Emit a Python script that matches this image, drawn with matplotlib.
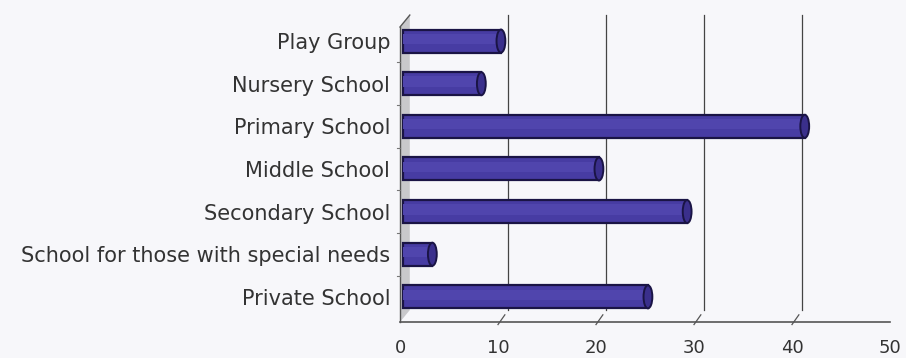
import matplotlib
matplotlib.use("Agg")
import matplotlib.pyplot as plt
import numpy as np

categories = [
    "Play Group",
    "Nursery School",
    "Primary School",
    "Middle School",
    "Secondary School",
    "School for those with special needs",
    "Private School",
]
values = [10, 8, 41, 20, 29, 3, 25]
x_ticks = [0, 10, 20, 30, 40, 50]

# 3d look: depth of the back wall in data units
DX, DY = 1.0, 0.28
Y0, Y1 = -0.59, 6.33

fig = plt.figure(figsize=(9.06, 3.58), dpi=100, facecolor="#f7f7fa")
ax = fig.add_axes([400 / 906, 36 / 358, 490 / 906, 295 / 358])
ax.set_facecolor("none")

ypos = np.arange(len(categories))[::-1]

# back wall gridlines
for v in x_ticks[1:-1]:
    ax.plot([v + DX, v + DX], [Y0 + DY, Y1 + DY], color="#444444", lw=0.9,
            clip_on=False, zorder=1)
# left wall
ax.fill([0, DX, DX, 0], [Y0, Y0 + DY, Y1 + DY, Y1], color="#a9a9ad",
        alpha=0.6, lw=0, clip_on=False, zorder=1)
ax.plot([0, 0], [Y0, Y1], color="#555555", lw=1.0, clip_on=False, zorder=2)
ax.plot([0, DX], [Y1, Y1 + DY], color="#555555", lw=1.0, clip_on=False, zorder=2)
ax.plot([0, 50], [Y0, Y0], color="#555555", lw=1.2, clip_on=False, zorder=2)
# slanted tick marks on the floor
for v in x_ticks[1:-1]:
    ax.plot([v, v + DX * 0.7], [Y0 - 0.06, Y0 + DY * 0.6], color="#555555",
            lw=0.9, clip_on=False, zorder=2)
# boundary marks on the left wall
for yb in np.arange(0.5, len(categories) - 0.5, 1.0):
    ax.plot([-0.35, 0], [yb, yb], color="#777777", lw=0.8, clip_on=False, zorder=2)

# bars (cylinder-ish)
ax.barh(ypos, values, left=0.3, height=0.54, color="#473ca3",
        edgecolor="#1a1445", linewidth=1.6, zorder=3)
ax.barh(ypos + 0.05, values, left=0.3, height=0.24, color="#5045ad",
        linewidth=0, zorder=4)
for y, v in zip(ypos, values):
    ax.add_patch(matplotlib.patches.Ellipse((v + 0.3, y), 0.9, 0.54,
                 facecolor="#3a2f8c", edgecolor="#1a1445", lw=1.4, zorder=5))

ax.set_xlim(0, 50)
ax.set_ylim(Y0, Y1)
ax.set_yticks(ypos)
ax.set_yticklabels(categories, fontsize=15, color="#333333",
                   family="DejaVu Sans")
ax.set_xticks(x_ticks)
ax.set_xticklabels([str(t) for t in x_ticks], fontsize=13, color="#333333")
ax.tick_params(axis="y", length=0, pad=7)
ax.tick_params(axis="x", length=0, pad=12)
for s in ax.spines.values():
    s.set_visible(False)

fig.savefig("out.png", dpi=100, facecolor=fig.get_facecolor())
